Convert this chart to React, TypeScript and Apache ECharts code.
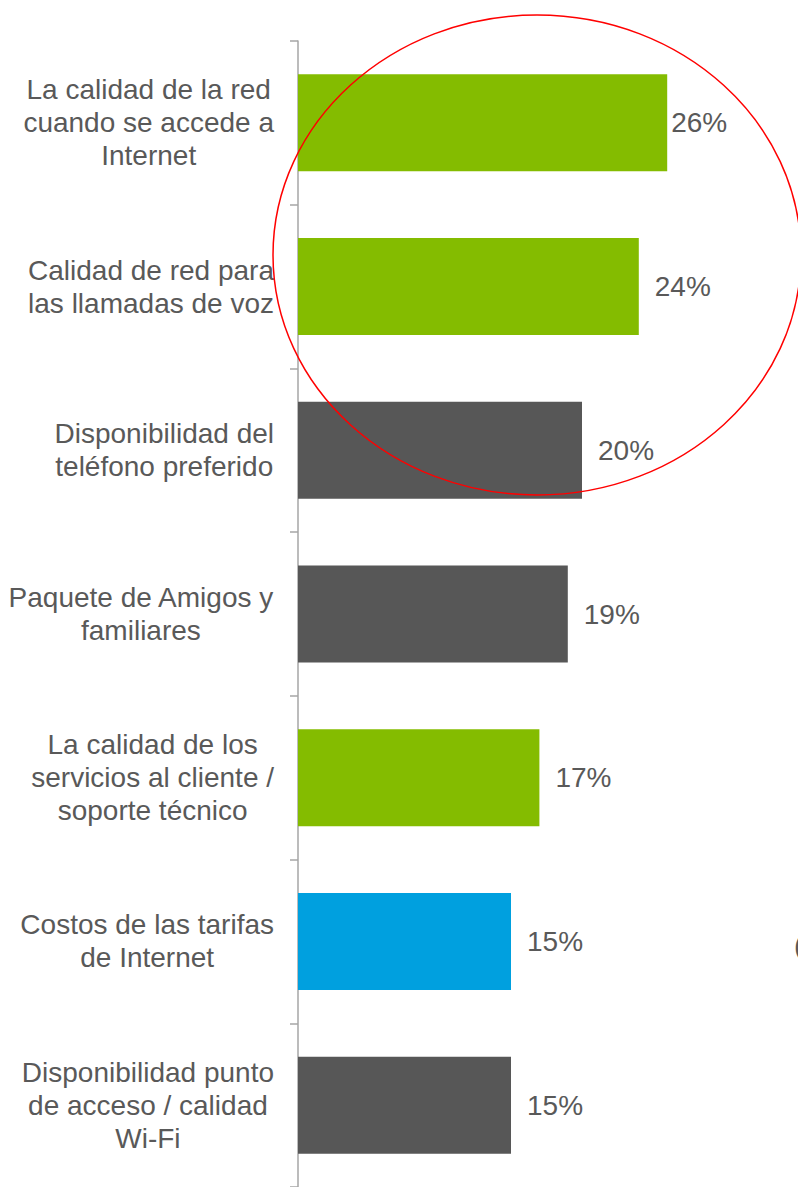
import React, { useEffect, useRef } from "react";
import * as echarts from "echarts";

const categories: string[] = [
  "La calidad de la red\ncuando se accede a\nInternet",
  "Calidad de red para\nlas llamadas de voz",
  "Disponibilidad del\nteléfono preferido",
  "Paquete de Amigos y\nfamiliares",
  "La calidad de los\nservicios al cliente /\nsoporte técnico",
  "Costos de las tarifas\nde Internet",
  "Disponibilidad punto\nde acceso / calidad\nWi-Fi",
];
const values: number[] = [26, 24, 20, 19, 17, 15, 15];
const barColors: string[] = ["#84BC00", "#84BC00", "#575757", "#575757", "#84BC00", "#00A0DF", "#575757"];
const labelGaps: number[] = [4, 16, 16, 16, 16, 16, 16];

const FONT = "'Liberation Sans', Arial, sans-serif";
const TEXT = "#595959";

export default function App() {
  const ref = useRef<HTMLDivElement>(null);
  useEffect(() => {
    if (!ref.current) return;
    const chart = echarts.init(ref.current, null, { renderer: "svg" });
    chart.setOption({
      animation: false,
      backgroundColor: "#ffffff",
      grid: { left: 298, right: 3, top: 41, bottom: -6, containLabel: false },
      xAxis: { type: "value", min: 0, max: 35, show: false },
      yAxis: {
        type: "category",
        inverse: true,
        data: categories,
        axisLine: { show: true, lineStyle: { color: "#A6A6A6", width: 1.5 } },
        axisTick: { show: true, length: 8, lineStyle: { color: "#A6A6A6", width: 1.5 } },
        axisLabel: {
          align: "right",
          margin: 24,
          formatter: (v: string) => v.split("\n").map((l) => `{c|${l}}`).join("\n"),
          rich: {
            c: { align: "center", fontSize: 28, lineHeight: 33, color: TEXT, fontFamily: FONT },
          },
        },
        splitLine: { show: false },
      },
      series: [
        {
          type: "bar",
          barWidth: 97,
          data: values.map((v, i) => ({
            value: v,
            itemStyle: { color: barColors[i] },
            label: { distance: labelGaps[i] },
          })),
          label: {
            show: true,
            position: "right",
            formatter: "{c}%",
            fontSize: 28,
            color: TEXT,
            fontFamily: FONT,
          },
        },
      ],
      graphic: [
        {
          type: "ellipse",
          z: 100,
          shape: { cx: 537, cy: 255, rx: 264, ry: 240 },
          style: { fill: "none", stroke: "#FF0000", lineWidth: 1.5 },
        },
        {
          type: "text",
          z: 100,
          x: 794,
          y: 945,
          style: { text: "(", fontSize: 28, fill: TEXT, fontFamily: FONT, verticalAlign: "middle" },
        },
      ],
    });
    return () => chart.dispose();
  }, []);
  return (
    <div
      ref={ref}
      style={{ position: "absolute", left: 0, top: 0, width: 798, height: 1187 }}
    />
  );
}
